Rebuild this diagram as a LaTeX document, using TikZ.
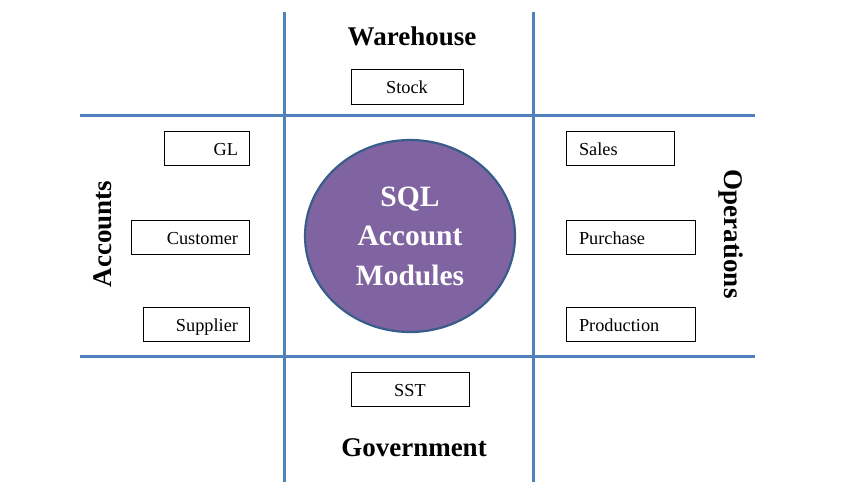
\documentclass[tikz,border=0pt]{standalone}
\usepackage{fontspec}
\setmainfont{Liberation Serif}
\usetikzlibrary{shapes.geometric}
\definecolor{gridblue}{HTML}{4F81BD}
\definecolor{circfill}{HTML}{8064A2}
\definecolor{circedge}{HTML}{385D8A}
\tikzset{
  gridline/.style={draw=gridblue, line width=3pt},
  box/.style={draw=black, line width=0.8pt, rectangle, minimum height=34pt, inner ysep=0pt,
    text height=14.5pt, text depth=0pt,
    font=\fontsize{18.3}{20}\selectfont},
  lbox/.style={box, inner xsep=11pt, align=right},
  rbox/.style={box, inner xsep=13pt, align=left},
  cbox/.style={box, inner xsep=0pt, align=center},
  heading/.style={font=\fontsize{27}{30}\selectfont\bfseries, inner sep=0pt},
  hub/.style={ellipse, draw=circedge, fill=circfill, line width=2.2pt, text=white,
    minimum width=210pt, minimum height=192pt, inner sep=0pt, align=center,
    font=\fontsize{29.5}{39.5}\selectfont\bfseries}
}
\begin{document}
\begin{tikzpicture}[x=1pt,y=-1pt]
\useasboundingbox (0,0) rectangle (861,491);
% grid lines
\draw[gridline] (284,12) -- (284,482);
\draw[gridline] (533,12) -- (533,482);
\draw[gridline] (80,115) -- (755,115);
\draw[gridline] (80,356) -- (755,356);
% hub
\node[hub] (hub) at (410,236) {SQL\\Account\\Modules};
% headings
\node[heading] (wh) at (412,36) {Warehouse};
\node[heading] (gov) at (414,447.5) {Government};
\node[heading, rotate=90] (acc) at (103,234) {Accounts};
\node[heading, rotate=-90] (ops) at (731,234) {Operations};
% boxes
\node[cbox, minimum width=112pt, text width=112pt, minimum height=35pt] (stock) at (407,86.5) {Stock};
\node[cbox, minimum width=118pt, text width=118pt] (sst) at (410,389) {SST};
\node[lbox, text width=63pt] (gl) at (206.5,148) {GL};
\node[lbox, text width=96pt] (cust) at (190,237) {Customer};
\node[lbox, text width=84pt] (supp) at (196,324) {Supplier};
\node[rbox, text width=82pt] (sales) at (620,148) {Sales};
\node[rbox, text width=103pt] (purch) at (630.5,237) {Purchase};
\node[rbox, text width=103pt] (prod) at (630.5,324) {Production};
\end{tikzpicture}
\end{document}
